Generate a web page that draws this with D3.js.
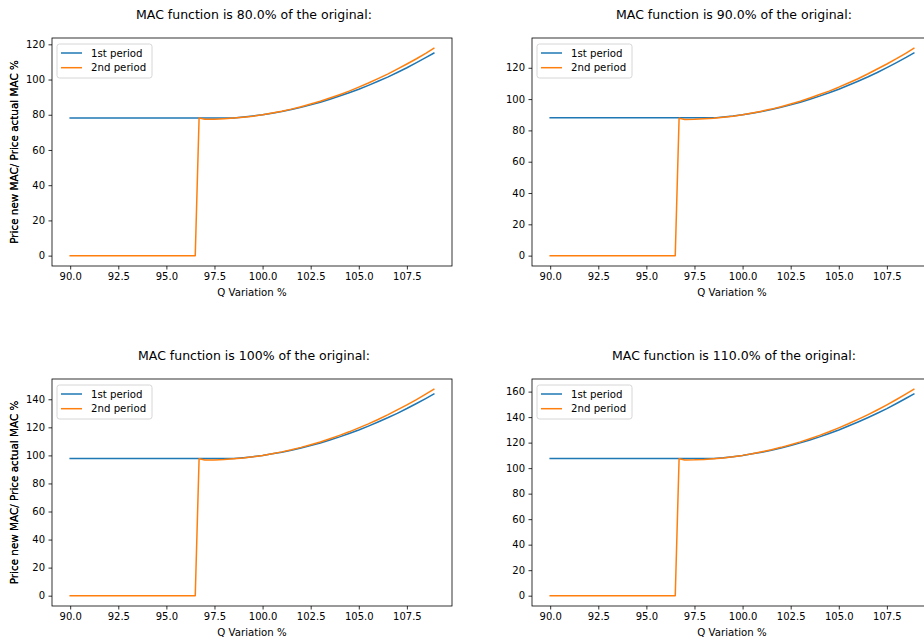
<!DOCTYPE html>
<html>
<head>
<meta charset="utf-8">
<script src="https://cdn.jsdelivr.net/npm/d3@7/dist/d3.min.js"></script>
<style>
  body { margin: 0; background: #fff; }
  svg { font-family: "DejaVu Sans", sans-serif; }
</style>
</head>
<body>
<svg id="chart" width="924" height="644"></svg>
<script>
// Q variation % (shared x for every panel)
const qVariation = [90, 96.5, 96.7, 97, 97.5, 98, 98.5, 99, 99.5, 100, 100.5, 101, 101.5, 102, 102.5,
  103, 103.5, 104, 104.5, 105, 105.5, 106, 106.5, 107, 107.5, 108, 108.5, 108.9];

const titles = [
  "MAC function is 80.0% of the original:",
  "MAC function is 90.0% of the original:",
  "MAC function is 100% of the original:",
  "MAC function is 110.0% of the original:"
];
const seriesNames = ["1st period", "2nd period"];

const firstPeriod80 = [78.2, 78.2, 78.2, 78.2, 78.2, 78.2, 78.2, 78.7, 79.3, 80.0, 80.9, 81.8, 83.0, 84.2, 85.6,
  87.1, 88.8, 90.6, 92.5, 94.5, 96.7, 99.0, 101.4, 104.0, 106.7, 109.6, 112.6, 115.0];
const secondPeriod80 = [0, 0, 78.1, 77.4, 77.4, 77.7, 78.1, 78.6, 79.2, 80.0, 81.0, 82.0, 83.2, 84.6, 86.1,
  87.7, 89.5, 91.4, 93.4, 95.7, 98.0, 100.5, 103.1, 105.9, 108.8, 111.8, 115.0, 117.7];

const firstPeriod90 = [88.0, 88.0, 88.0, 88.0, 88.0, 88.0, 88.0, 88.6, 89.2, 90.0, 91.0, 92.1, 93.3, 94.8, 96.3,
  98.0, 99.9, 101.9, 104.0, 106.3, 108.8, 111.4, 114.1, 117.0, 120.1, 123.3, 126.6, 129.4];
const secondPeriod90 = [0, 0, 87.8, 87.0, 87.1, 87.4, 87.8, 88.4, 89.1, 90.0, 91.1, 92.3, 93.6, 95.1, 96.8,
  98.6, 100.7, 102.9, 105.1, 107.6, 110.3, 113.0, 116.0, 119.2, 122.4, 125.8, 129.4, 132.4];

const firstPeriod100 = [97.8, 97.8, 97.8, 97.8, 97.8, 97.8, 97.8, 98.4, 99.1, 100.0, 101.1, 102.3, 103.7, 105.3, 107.0,
  108.9, 111.0, 113.2, 115.6, 118.1, 120.9, 123.8, 126.8, 130.0, 133.4, 137.0, 140.7, 143.8];
const secondPeriod100 = [0, 0, 97.6, 96.7, 96.8, 97.1, 97.6, 98.2, 99.0, 100.0, 101.2, 102.5, 104.0, 105.7, 107.6,
  109.6, 111.9, 114.3, 116.8, 119.6, 122.5, 125.6, 128.9, 132.4, 136.0, 139.8, 143.8, 147.1];

const firstPeriod110 = [107.6, 107.6, 107.6, 107.6, 107.6, 107.6, 107.6, 108.2, 109.0, 110.0, 111.2, 112.5, 114.1, 115.8, 117.7,
  119.8, 122.1, 124.5, 127.2, 129.9, 133.0, 136.2, 139.5, 143.0, 146.7, 150.7, 154.8, 158.2];
const secondPeriod110 = [0, 0, 107.4, 106.4, 106.5, 106.8, 107.4, 108.0, 108.9, 110.0, 111.3, 112.8, 114.4, 116.3, 118.4,
  120.6, 123.1, 125.7, 128.5, 131.6, 134.8, 138.2, 141.8, 145.6, 149.6, 153.8, 158.2, 161.8];

const xTicks = [90, 92.5, 95, 97.5, 100, 102.5, 105, 107.5];
const yTicks120 = [0, 20, 40, 60, 80, 100, 120];
const yTicks140 = [0, 20, 40, 60, 80, 100, 120, 140];
const yTicks160 = [0, 20, 40, 60, 80, 100, 120, 140, 160];

const colors = ["#1f77b4", "#ff7f0e"];

// axes boxes
const panels = [
  { title: titles[0], series: [firstPeriod80, secondPeriod80], yTicks: yTicks120, left: 52, top: 38, bottom: 266 },
  { title: titles[1], series: [firstPeriod90, secondPeriod90], yTicks: yTicks120, left: 532, top: 38, bottom: 266 },
  { title: titles[2], series: [firstPeriod100, secondPeriod100], yTicks: yTicks140, left: 52, top: 379, bottom: 606 },
  { title: titles[3], series: [firstPeriod110, secondPeriod110], yTicks: yTicks160, left: 532, top: 379, bottom: 606 }
];
const axW = 400;

const svg = d3.select("#chart");

panels.forEach(p => {
  const h = p.bottom - p.top;
  const g = svg.append("g").attr("transform", `translate(${p.left},${p.top})`);

  // matplotlib style 5% margins
  const xMin = d3.min(qVariation), xMax = d3.max(qVariation);
  const xPad = (xMax - xMin) * 0.05;
  const x = d3.scaleLinear().domain([xMin - xPad, xMax + xPad]).range([0, axW]);

  const allY = p.series.flat();
  const yMin = d3.min(allY), yMax = d3.max(allY);
  const yPad = (yMax - yMin) * 0.05;
  const y = d3.scaleLinear().domain([yMin - yPad, yMax + yPad]).range([h, 0]);

  const line = d3.line().x((d, i) => x(qVariation[i])).y(d => y(d));

  p.series.forEach((s, k) => {
    g.append("path")
      .datum(s)
      .attr("d", line)
      .attr("fill", "none")
      .attr("stroke", colors[k])
      .attr("stroke-width", 1.5)
      .attr("stroke-linejoin", "round")
      .attr("stroke-linecap", "square");
  });

  const xAxis = d3.axisBottom(x)
    .tickValues(xTicks)
    .tickSize(3.5)
    .tickPadding(3.5)
    .tickFormat(d3.format(".1f"));
  const yAxis = d3.axisLeft(y)
    .tickValues(p.yTicks)
    .tickSize(3.5)
    .tickPadding(3.5)
    .tickFormat(d3.format("d"));

  const gx = g.append("g").attr("transform", `translate(0,${h})`).call(xAxis);
  const gy = g.append("g").call(yAxis);
  [gx, gy].forEach(a => {
    a.select(".domain").remove();
    a.selectAll(".tick line").attr("stroke", "#000").attr("stroke-width", 0.8);
    a.selectAll(".tick text").attr("fill", "#000").style("font-size", "10px")
      .style("font-family", "DejaVu Sans, sans-serif");
  });

  // spines
  g.append("rect")
    .attr("width", axW).attr("height", h)
    .attr("fill", "none")
    .attr("stroke", "#000")
    .attr("stroke-width", 0.8);

  // title
  g.append("text")
    .attr("x", axW / 2 + 2).attr("y", -19)
    .attr("text-anchor", "middle")
    .style("font-size", "12.5px")
    .text(p.title);

  // axis labels
  g.append("text")
    .attr("x", axW / 2).attr("y", h + 30)
    .attr("text-anchor", "middle")
    .style("font-size", "10.2px")
    .text("Q Variation %");
  g.append("text")
    .attr("transform", `translate(${-p.left + 18},${h / 2}) rotate(-90)`)
    .attr("text-anchor", "middle")
    .style("font-size", "10.4px")
    .text("Price new MAC/ Price actual MAC %");

  // legend
  const lg = g.append("g").attr("transform", "translate(5,6)");
  lg.append("rect")
    .attr("width", 95).attr("height", 34)
    .attr("rx", 2.5)
    .attr("fill", "#fff").attr("fill-opacity", 0.8)
    .attr("stroke", "#cccccc").attr("stroke-width", 0.8);
  seriesNames.forEach((name, k) => {
    const yy = 9 + k * 14.7;
    lg.append("line")
      .attr("x1", 4).attr("x2", 25).attr("y1", yy).attr("y2", yy)
      .attr("stroke", colors[k]).attr("stroke-width", 1.5);
    lg.append("text")
      .attr("x", 34).attr("y", yy + 3.6)
      .style("font-size", "10.2px")
      .text(name);
  });
});
</script>
</body>
</html>
